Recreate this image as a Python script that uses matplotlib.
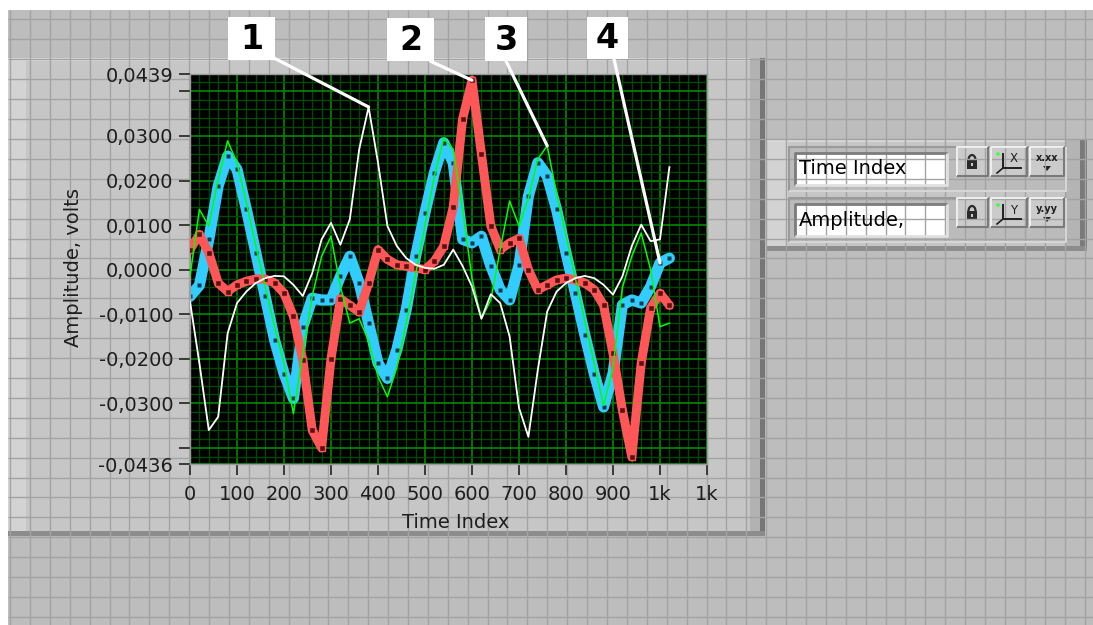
import matplotlib
matplotlib.use("Agg")
import matplotlib.pyplot as plt
import numpy as np
from matplotlib.patches import Rectangle, Polygon, Arc, Circle
from matplotlib.ticker import FixedLocator, MultipleLocator

W, H = 1093, 625

# ── data (volts, every 20 samples) ──────────────────────────────────
time_index = np.arange(0, 1021, 20)

white = [-0.0071, -0.0210, -0.0360, -0.0330, -0.0143, -0.0075, -0.0049, -0.0030, -0.0019, -0.0014,
         -0.0015, -0.0034, -0.0059, -0.0008, 0.0068, 0.0105, 0.0056, 0.0113, 0.0270, 0.0365,
         0.0240, 0.0098, 0.0053, 0.0026, 0.0011, 0.0004, 0.0002, 0.0011, 0.0045, 0.0008,
         -0.0038, -0.0110, -0.0055, -0.0075, -0.0150, -0.0310, -0.0375, -0.0225, -0.0094, -0.0049,
         -0.0030, -0.0019, -0.0014, -0.0019, -0.0034, -0.0056, -0.0015, 0.0053, 0.0101, 0.0064,
         0.0068, 0.0230]

red = [0.0045, 0.0079, 0.0038, -0.0030, -0.0049, -0.0034, -0.0026, -0.0021, -0.0021, -0.0030,
       -0.0053, -0.0105, -0.0203, -0.0360, -0.0400, -0.0200, -0.0065, -0.0080, -0.0095, -0.0030,
       0.0045, 0.0023, 0.0011, 0.0008, 0.0004, 0.0000, 0.0019, 0.0053, 0.0140, 0.0338,
       0.0425, 0.0260, 0.0098, 0.0045, 0.0060, 0.0070, 0.0000, -0.0045, -0.0034, -0.0023,
       -0.0019, -0.0023, -0.0030, -0.0045, -0.0080, -0.0188, -0.0315, -0.0420, -0.0210, -0.0086,
       -0.0053, -0.0080]

green = [-0.0015, 0.0135, 0.0098, 0.0202, 0.0289, 0.0240, 0.0150, 0.0053, -0.0038, -0.0128,
         -0.0210, -0.0323, -0.0188, -0.0060, 0.0030, 0.0075, -0.0038, -0.0120, -0.0110, -0.0160,
         -0.0240, -0.0285, -0.0220, -0.0120, -0.0010, 0.0100, 0.0210, 0.0295, 0.0270, 0.0135,
         -0.0020, -0.0110, -0.0068, 0.0045, 0.0154, 0.0098, 0.0160, 0.0248, 0.0278, 0.0170,
         0.0075, -0.0020, -0.0115, -0.0210, -0.0305, -0.0220, -0.0040, 0.0030, 0.0082, 0.0000,
         -0.0128, -0.0120]

blue = [-0.0060, -0.0035, 0.0068, 0.0188, 0.0255, 0.0225, 0.0135, 0.0038, -0.0060, -0.0158,
        -0.0233, -0.0289, -0.0128, -0.0064, -0.0068, -0.0068, -0.0015, 0.0030, -0.0030, -0.0120,
        -0.0210, -0.0244, -0.0180, -0.0090, 0.0030, 0.0128, 0.0218, 0.0285, 0.0240, 0.0068,
        0.0060, 0.0075, 0.0008, -0.0045, -0.0068, 0.0010, 0.0165, 0.0240, 0.0210, 0.0135,
        0.0038, -0.0053, -0.0146, -0.0233, -0.0308, -0.0233, -0.0079, -0.0068, -0.0075, -0.0038,
        0.0015, 0.0026]

x_ticks = [0, 100, 200, 300, 400, 500, 600, 700, 800, 900, 1000, 1100]
x_labels = ["0", "100", "200", "300", "400", "500", "600", "700", "800", "900", "1k", "1k"]
y_ticks = [0.0439, 0.04, 0.03, 0.02, 0.01, 0.0, -0.01, -0.02, -0.03, -0.04, -0.0436]
y_labels = ["0,0439", "", "0,0300", "0,0200", "0,0100", "0,0000",
            "-0,0100", "-0,0200", "-0,0300", "", "-0,0436"]

TXT = "#1E1E1E"
plt.rcParams["font.family"] = ["DejaVu Sans"]

fig = plt.figure(figsize=(W / 100, H / 100), dpi=100)
fig.patch.set_facecolor("white")


def px_axes(z):
    a = fig.add_axes([0, 0, 1, 1], zorder=z)
    a.set_xlim(0, W)
    a.set_ylim(H, 0)
    a.axis("off")
    a.patch.set_alpha(0)
    return a


def bevel(a, x0, y0, x1, y1, face, light, dark, w=1.5, raised=True):
    a.add_patch(Rectangle((x0, y0), x1 - x0, y1 - y0, fc=face, ec="none"))
    tl, br = (light, dark) if raised else (dark, light)
    a.plot([x0, x0, x1], [y1, y0, y0], color=tl, lw=w, solid_capstyle="butt")
    a.plot([x0, x1, x1], [y1, y1, y0], color=br, lw=w, solid_capstyle="butt")


bg = px_axes(0)

# ── front panel grid background ───────────────────────────────
bg.add_patch(Rectangle((8, 10), W - 8, H - 10, fc="#BDBDBD", ec="none"))
bg.vlines(np.arange(10, W, 19.9), 10, H, color="#A3A3A3", lw=1)
bg.hlines(np.arange(19.4, H, 19.92), 8, W, color="#A3A3A3", lw=1)

# ── graph frame ───────────────────────────────────────────────
bg.add_patch(Rectangle((8, 58), 757, 478, fc="#C6C6C6", ec="none"))
bg.add_patch(Rectangle((8, 58), 18, 478, fc="#D3D3D3", ec="none"))
bg.add_patch(Rectangle((8, 58), 757, 3, fc="#DADADA", ec="none"))
bg.add_patch(Rectangle((750, 58), 10, 478, fc="#B2B2B2", ec="none"))
bg.add_patch(Rectangle((760, 58), 5, 478, fc="#767676", ec="none"))
bg.add_patch(Rectangle((8, 531), 757, 5, fc="#8C8C8C", ec="none"))

# ── scale legend panel ────────────────────────────────────────
bg.add_patch(Rectangle((766, 139), 321, 112, fc="#C6C6C6", ec="none"))
bg.add_patch(Rectangle((766, 139), 22, 112, fc="#D3D3D3", ec="none"))
bg.add_patch(Rectangle((766, 139), 321, 3, fc="#DADADA", ec="none"))
bg.add_patch(Rectangle((1066, 139), 14, 112, fc="#B4B4B4", ec="none"))
bg.add_patch(Rectangle((1080, 139), 7, 112, fc="#7A7A7A", ec="none"))
bg.add_patch(Rectangle((766, 246), 321, 5, fc="#8C8C8C", ec="none"))

rows = [("Time Index", "X", "x.xx", 147), ("Amplitude,", "Y", "y.yy", 198)]
for name, axis_name, fmt, top in rows:
    bevel(bg, 789, top, 1066, top + 44, "#BBBBBB", "#D6D6D6", "#9A9A9A", raised=False)
    bevel(bg, 795, top + 6, 947, top + 38, "white", "#E0E0E0", "#7C7C7C", w=2, raised=False)
    bg.text(799, top + 22, name, fontsize=14, color="black", ha="left", va="center")
    for bx0, bx1 in [(957, 988), (991, 1027), (1030, 1064)]:
        bevel(bg, bx0, top, bx1, top + 29, "#CBCBCB", "#EDEDED", "#7A7A7A")
    # lock
    bg.add_patch(Rectangle((967, top + 13), 10, 9, fc="#2A2A2A", ec="none"))
    bg.add_patch(Rectangle((971, top + 16), 2, 3, fc="#CBCBCB", ec="none"))
    bg.add_patch(Arc((972, top + 13), 7, 10, theta1=180, theta2=360, color="#2A2A2A", lw=1.6))
    # axis icon
    bg.plot([1003, 1003, 1021], [top + 7, top + 21, top + 21], color="#202020", lw=1.4)
    bg.plot([997, 1003], [top + 26, top + 21], color="#202020", lw=1.2)
    bg.text(1014, top + 12, axis_name, fontsize=8.5, color="#202020", ha="center", va="center")
    bg.add_patch(Circle((998, top + 7), 1.8, fc="#3CFF3C", ec="none"))
    # format icon
    bg.text(1047, top + 11, fmt, fontsize=7, color="#202020", ha="center", va="center",
            fontweight="bold")
    bg.add_patch(Polygon([[1043, top + 19], [1051, top + 19], [1047, top + 24]],
                         closed=True, fc="#202020", ec="none"))

# ── the graph itself ──────────────────────────────────────────
ax = fig.add_axes([190 / W, (H - 464) / H, 517 / W, 390 / H], zorder=1)
ax.set_facecolor("black")
ax.set_xlim(0, 1100)
ax.set_ylim(-0.0436, 0.0439)

ax.xaxis.set_major_locator(FixedLocator(x_ticks))
ax.xaxis.set_minor_locator(MultipleLocator(20))
ax.yaxis.set_major_locator(FixedLocator(y_ticks))
ax.yaxis.set_minor_locator(MultipleLocator(0.002))
ax.set_xticklabels(x_labels)
ax.set_yticklabels(y_labels)

ax.grid(which="minor", color="#004A00", lw=1.0)
ax.grid(which="major", color="#007F00", lw=1.3)
ax.set_axisbelow(True)
ax.tick_params(which="major", direction="out", length=8, width=1.4, color="#3A3A3A",
               labelsize=14, labelcolor=TXT)
ax.tick_params(axis="x", which="major", pad=7)
ax.tick_params(axis="y", which="major", pad=4)
ax.tick_params(which="minor", length=0)
for s in ax.spines.values():
    s.set_color("#9A9A9A")
    s.set_linewidth(1)

ax.plot(time_index, blue, color="#33CCFF", lw=8, solid_capstyle="round", zorder=2,
        marker="s", ms=2.5, mfc="#0E3A4A", mec="none")
ax.plot(time_index, red, color="#FF5757", lw=6.5, solid_capstyle="round", zorder=3,
        marker="s", ms=4.5, mfc="#5A1212", mec="#FF5757", mew=1.0)
ax.plot(time_index, green, color="#00FF00", lw=1.1, zorder=4)
ax.plot(time_index, white, color="white", lw=1.3, zorder=5)

ax.set_xlabel("Time Index", fontsize=14, color=TXT, va="center")
ax.xaxis.set_label_coords(0.514, -0.151)
ax.set_ylabel("Amplitude, volts", fontsize=14, color=TXT, ha="center", va="center")
ax.yaxis.set_label_coords(-0.226, 0.505)

# ── numbered callouts ─────────────────────────────────────────
ov = px_axes(2)
g_late = np.array(time_index) >= 700
callouts = [
    ("1", (228, 17, 275, 60), (274, 58), time_index[np.argmax(white)], max(white)),
    ("2", (387, 18, 434, 61), (430, 61), time_index[np.argmax(red)], max(red)),
    ("3", (485, 17, 527, 61), (506, 61), time_index[g_late][np.argmax(np.array(green)[g_late])],
     max(np.array(green)[g_late])),
    ("4", (587, 17, 628, 59), (614, 59), time_index[-2], blue[-2]),
]
for num, (bx0, by0, bx1, by1), start, tx, ty in callouts:
    px, py = ax.transData.transform((tx, ty))
    ov.plot([start[0], px], [start[1], H - py], color="white", lw=2.3,
            solid_capstyle="round")
    ov.add_patch(Rectangle((bx0, by0), bx1 - bx0, by1 - by0, fc="white", ec="none"))
    ov.text((bx0 + bx1) / 2, (by0 + by1) / 2 + 1, num, fontsize=24, fontweight="bold",
            color="black", ha="center", va="center")

fig.savefig("out.png", dpi=100, facecolor="white")
